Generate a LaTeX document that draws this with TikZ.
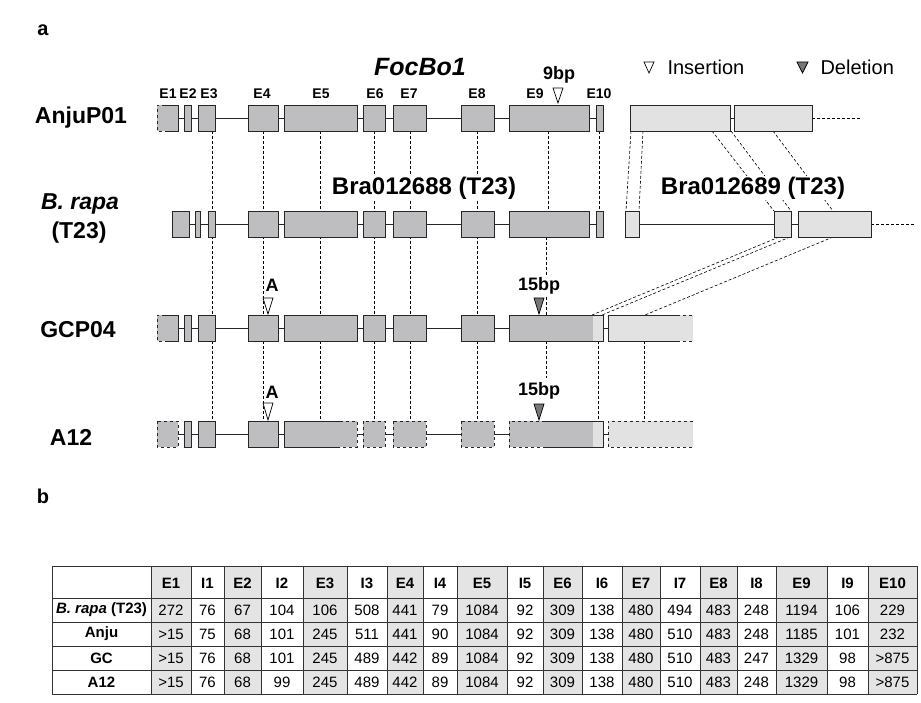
\documentclass[tikz,border=0pt]{standalone}
\usepackage{fontspec}
\setmainfont{Liberation Sans}
\usetikzlibrary{positioning}
\definecolor{exongray}{RGB}{190,190,192}
\definecolor{exonlight}{RGB}{226,226,226}
\definecolor{cellgray}{RGB}{228,228,228}
\definecolor{delgray}{RGB}{118,118,118}

\begin{document}
\begin{tikzpicture}[x=1pt,y=-1pt,
    edge/.style={line width=0.9pt,draw=black!85},
    exon/.style={edge,fill=exongray},
    utr/.style={edge,fill=exonlight},
    link/.style={dashed,line width=0.6pt,dash pattern=on 3pt off 2pt},
    ins/.style={fill=white,draw=black,line width=0.7pt},
    del/.style={fill=delgray,draw=black,line width=0.7pt},
    rowlbl/.style={font=\bfseries\fontsize{23}{27}\selectfont},
    exlbl/.style={font=\bfseries\fontsize{14}{16}\selectfont},
    mut/.style={font=\bfseries\fontsize{18}{20}\selectfont,fill=white,inner sep=1pt},
    gene/.style={font=\bfseries\fontsize{24}{28}\selectfont,fill=white,inner sep=1pt},
    grid/.style={line width=0.7pt,black!80},
    hd/.style={font=\bfseries\fontsize{15}{17}\selectfont},
    cell/.style={font=\fontsize{15}{17}\selectfont}]
        \useasboundingbox (0,0) rectangle (921,703);
        \node[font=\bfseries\fontsize{20}{24}\selectfont] (pa) at (43,30) {a};
        \node[font=\bfseries\fontsize{20}{24}\selectfont] (pb) at (43,496) {b};
        \draw[link] (212,131) -- (212,421);
        \foreach \x in {263,320,374,410,477} {
            \draw[link] (\x,131) -- (\x,421);
        }
        \draw[link] (548,131) -- (548,211);
        \draw[link] (599,131) -- (599,211);
        \draw[link] (546,237) -- (546,315);
        \draw[link] (546,341) -- (546,378);
        \draw[link] (598,341) -- (598,421);
        \draw[link] (644,341) -- (644,421);
        \draw[link] (631,131) -- (626,211);
        \draw[link] (643,131) -- (639,211);
        \draw[link] (712,131) -- (774,211);
        \draw[link] (731,131) -- (791,211);
        \draw[link] (773,131) -- (833,211);
        \draw[link] (779,237) -- (592,315);
        \draw[link] (790,237) -- (602,315);
        \draw[link] (833,237) -- (645,315);
        \node[rowlbl] (anju) at (81,118) {AnjuP01};
        \node[rowlbl] (brapa) at (80,204) {\textit{B. rapa}};
        \node[rowlbl] (t23) at (79,233) {(T23)};
        \node[rowlbl] (gcp) at (78,330) {GCP04};
        \node[rowlbl] (a12) at (71,437) {A12};
        \node[font=\bfseries\itshape\fontsize{25}{28}\selectfont] (focbo) at (420,67) {FocBo1};
        \node[gene] (bra88) at (424,188) {Bra012688 (T23)};
        \node[gene] (bra89) at (753,188) {Bra012689 (T23)};
        \draw[ins] (644,62) -- (654,62) -- (649,73) -- cycle;
        \node[right,font=\fontsize{20}{24}\selectfont] (insl) at (664,67) {Insertion};
        \draw[del] (797,62) -- (808,62) -- (802.5,73) -- cycle;
        \node[right,font=\fontsize{20}{24}\selectfont] (dell) at (817,67) {Deletion};
        \foreach \x/\e in {168/E1,188/E2,209/E3,262/E4,321/E5,375/E6,409/E7,477/E8,535/E9,599/E10} {
            \node[exlbl] (l\e) at (\x,94) {\e};
        }
        \draw[edge] (178,118) -- (596,118);
        \draw[edge] (730,118) -- (734,118);
        \draw[link] (812,118) -- (860,118);
        \draw[edge] (189,224) -- (596,224);
        \draw[edge] (639,224) -- (798,224);
        \draw[link] (871,224) -- (915,224);
        \draw[edge] (178,328) -- (608,328);
        \draw[edge] (178,434) -- (608,434);
        \foreach \t in {105,315} {
            \fill[exongray] (157,\t) rectangle (178,\t+26);
            \draw[edge] (165,\t) -- (178,\t) -- (178,\t+26) -- (165,\t+26);
            \draw[edge,dashed] (165,\t) -- (157,\t) -- (157,\t+26) -- (165,\t+26);
            \draw[exon] (184,\t) rectangle (191,\t+26);
            \draw[exon] (198,\t) rectangle (215,\t+26);
        }
        \foreach \a/\b in {172/189,195/200,208/215} {
            \draw[exon] (\a,211) rectangle (\b,237);
        }
        \foreach \t in {105,211,315} {
            \foreach \a/\b in {248/278,284/357,363/385,393/426,461/494} {
                \draw[exon] (\a,\t) rectangle (\b,\t+26);
            }
        }
        \foreach \t in {105,211} {
            \draw[exon] (509,\t) rectangle (589,\t+26);
            \draw[exon] (596,\t) rectangle (603,\t+26);
        }
        \draw[utr] (630,105) rectangle (730,131);
        \draw[utr] (734,105) rectangle (812,131);
        \draw[utr] (625,211) rectangle (639,237);
        \draw[utr] (774,211) rectangle (791,237);
        \draw[utr] (798,211) rectangle (871,237);
        \fill[exongray] (509,315) rectangle (593,341);
        \fill[exonlight] (593,315) rectangle (603,341);
        \draw[edge] (509,315) rectangle (603,341);
        \fill[exonlight] (608,315) rectangle (693,341);
        \draw[edge] (677,315) -- (608,315) -- (608,341) -- (677,341);
        \draw[edge,dashed] (677,315) -- (693,315);
        \draw[edge,dashed] (677,341) -- (693,341);
        \draw[exon,dashed] (157,421) rectangle (178,447);
        \draw[exon] (184,421) rectangle (191,447);
        \draw[exon] (198,421) rectangle (215,447);
        \draw[exon] (248,421) rectangle (278,447);
        \fill[exongray] (284,421) rectangle (357,447);
        \draw[edge] (340,421) -- (284,421) -- (284,447) -- (340,447);
        \draw[edge,dashed] (340,421) -- (357,421) -- (357,447) -- (340,447);
        \foreach \a/\b in {363/385,393/426,461/494} {
            \draw[exon,dashed] (\a,421) rectangle (\b,447);
        }
        \fill[exongray] (509,421) rectangle (593,447);
        \fill[exonlight] (593,421) rectangle (603,447);
        \draw[edge] (545,421) -- (603,421) -- (603,447) -- (546,447);
        \draw[edge,dashed] (545,421) -- (509,421) -- (509,447) -- (546,447);
        \fill[exonlight] (608,421) rectangle (693,447);
        \draw[edge,dashed] (693,421) -- (608,421) -- (608,447) -- (693,447);
        \draw[ins] (553,88) -- (563,88) -- (558,103) -- cycle;
        \node[mut] (bp9) at (559,75) {9bp};
        \draw[ins] (263,298) -- (273,298) -- (268,314) -- cycle;
        \node[font=\bfseries\fontsize{18}{20}\selectfont] (a3) at (272,285) {A};
        \draw[del] (534,298) -- (544,298) -- (539,314) -- cycle;
        \node[mut] (bp15c) at (539,286) {15bp};
        \draw[ins] (263,403) -- (273,403) -- (268,420) -- cycle;
        \node[font=\bfseries\fontsize{18}{20}\selectfont] (a4) at (272,392) {A};
        \draw[del] (534,404) -- (544,404) -- (539,420) -- cycle;
        \node[mut] (bp15a) at (539,391) {15bp};
        \foreach \a/\b in {151/191,224/261,303/347,387/423,457/507,543/582,622/660,700/737,776/827,868/917} {
            \fill[cellgray] (\a,566) rectangle (\b,694);
        }
        \foreach \x in {52,151,191,224,261,303,347,387,423,457,507,543,582,622,660,700,737,776,827,868,917} {
            \draw[grid] (\x,566) -- (\x,694);
        }
        \foreach \y in {566,598,622,646,670,694} {
            \draw[grid] (52,\y) -- (917,\y);
        }
        \node[hd] (rbrapa) at (101.5,610) {\textit{B. rapa} (T23)};
        \node[hd] (ranju) at (101.5,634) {Anju};
        \node[hd] (rgc) at (101.5,658) {GC};
        \node[hd] (ra12) at (101.5,682) {A12};
        \foreach \x/\h/\p/\q/\r/\s in {171/E1/272/>15/>15/>15, 207.5/I1/76/75/76/76, 242.5/E2/67/68/68/68,
            282/I2/104/101/101/99, 325/E3/106/245/245/245, 367/I3/508/511/489/489, 405/E4/441/441/442/442,
            440/I4/79/90/89/89, 482/E5/1084/1084/1084/1084, 525/I5/92/92/92/92, 562.5/E6/309/309/309/309,
            602/I6/138/138/138/138, 641/E7/480/480/480/480, 680/I7/494/510/510/510, 718.5/E8/483/483/483/483,
            756.5/I8/248/248/247/248, 801.5/E9/1194/1185/1329/1329, 847.5/I9/106/101/98/98,
            892.5/E10/229/232/>875/>875} {
            \node[hd] (h\h) at (\x,583) {\h};
            \node[cell] (b\h) at (\x,610) {\p};
            \node[cell] (n\h) at (\x,634) {\q};
            \node[cell] (g\h) at (\x,658) {\r};
            \node[cell] (k\h) at (\x,682) {\s};
        }
    \end{tikzpicture}
\end{document}
